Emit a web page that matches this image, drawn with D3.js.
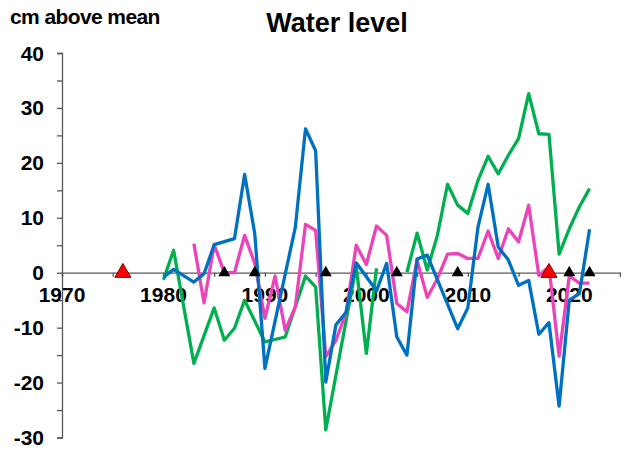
<!DOCTYPE html>
<html>
<head>
<meta charset="utf-8">
<script src="https://cdn.jsdelivr.net/npm/d3@7"></script>
<style>
html,body{margin:0;padding:0;background:#fff;}
svg{display:block;font-family:"Liberation Sans",Arial,sans-serif;}
</style>
</head>
<body>
<svg id="chart" width="621" height="450"></svg>
<script>
// ---- data ----
const blueYears  = [1980,1981,1983,1984,1985,1987,1988,1989,1990,1993,1994,1995,1996,1997,1998,1999,2001,2002,2003,2004,2005,2006,2009,2010,2011,2012,2013,2014,2015,2016,2017,2018,2019,2020,2021,2022];
const blueValues = [-0.8,0.6,-1.7,-0.2,5.1,6.2,17.9,7.1,-17.4,8.3,26.2,22.2,-19.9,-9.5,-7.2,1.8,-3.3,1.7,-11.7,-15,2.5,3.2,-10.2,-6.4,8.3,16.1,4.7,2.3,-2.3,-1.4,-11.2,-9.1,-24.3,-5,-3.8,7.9];

const greenYears  = [1980,1981,1983,1985,1986,1987,1988,1990,1992,1993,1994,1995,1996,1999,2000,2001,2002,2004,2005,2006,2007,2008,2009,2010,2011,2012,2013,2014,2015,2016,2017,2018,2019,2020,2021,2022];
const greenValues = [-1.3,4.1,-16.5,-6.4,-12.3,-10.1,-5,-12.6,-11.7,-6.2,-0.6,-2.6,-28.6,1.2,-14.7,0.8,null,0.1,7.2,0.5,6.8,16.1,12.3,10.8,16.8,21.2,18,21.4,24.4,32.6,25.3,25.2,3.4,8,12,15.3];

const pinkYears  = [1983,1984,1985,1986,1987,1988,1989,1990,1991,1992,1993,1994,1995,1996,1997,1998,1999,2000,2001,2002,2003,2004,2005,2006,2007,2008,2009,2010,2011,2012,2013,2014,2015,2016,2017,2018,2019,2020,2021,2022];
const pinkValues = [5.3,-5.5,5.1,0,0,6.8,1.7,-8.3,-0.6,-10.5,-6.2,8.8,7.7,-15.3,-12.3,-7.3,5,1.5,8.5,6.8,-5.6,-7.1,2.3,-4.5,-1.1,3.4,3.5,2.6,2.6,7.6,2.6,8,5.6,12.3,-0.5,1.1,-15.2,-0.6,-1.9,-1.9];

const blackTriangleYears = [1986,1989,1996,2003,2009,2020,2022];
const redTriangleYears = [1976,2018];

const yTickValues = [-30,-20,-10,0,10,20,30,40];
const xTickLabels = [1970,1980,1990,2000,2010,2020];

// ---- layout ----
const svg = d3.select("#chart");
const x = d3.scaleLinear().domain([1970,2025]).range([62,620]);
const y = d3.scaleLinear().domain([-30,40]).range([437.5,53]);

// titles
svg.append("text").attr("x",10).attr("y",24)
  .attr("font-size",21).attr("font-weight","bold").attr("fill","#000")
  .attr("letter-spacing","-0.6")
  .text("cm above mean");
svg.append("text").attr("x",337).attr("y",32).attr("text-anchor","middle")
  .attr("font-size",27).attr("font-weight","bold").attr("fill","#000")
  .text("Water level");

// y axis
const yAxis = d3.axisLeft(y).tickValues(d3.range(-30,41,5)).tickSize(5).tickFormat("");
const gy = svg.append("g").attr("transform","translate(62,0)").call(yAxis);
gy.select(".domain").attr("stroke","#595959").attr("stroke-width",1.3);
gy.selectAll(".tick line").attr("stroke","#595959").attr("stroke-width",1.3);
svg.append("g").selectAll("text").data(yTickValues).join("text")
  .attr("x",44).attr("y",d=>y(d)).attr("dy","0.36em")
  .attr("text-anchor","end").attr("font-size",21).attr("font-weight","bold").attr("fill","#000")
  .text(d=>d);

// x axis at 0
const xAxis = d3.axisBottom(x).tickValues(d3.range(1970,2026,5)).tickSize(4).tickFormat("");
const gx = svg.append("g").attr("transform",`translate(0,${y(0)})`).call(xAxis);
gx.select(".domain").attr("stroke","#595959").attr("stroke-width",1.3);
gx.selectAll(".tick line").attr("stroke","#595959").attr("stroke-width",1.3);
svg.append("g").selectAll("text").data(xTickLabels).join("text")
  .attr("x",d=>x(d)).attr("y",y(0)+29).attr("text-anchor","middle")
  .attr("font-size",21).attr("font-weight","bold").attr("fill","#000")
  .text(d=>d);

// lines
function drawLine(years, values, color){
  const pts = years.map((yr,i)=>({yr, v: values[i]}));
  const line = d3.line().defined(d=>d.v!==null).x(d=>x(d.yr)).y(d=>y(d.v));
  svg.append("path").datum(pts).attr("d",line)
    .attr("fill","none").attr("stroke",color).attr("stroke-width",3.3)
    .attr("stroke-linejoin","round");
}
drawLine(greenYears, greenValues, "#00b050");
drawLine(pinkYears, pinkValues, "#ea44b8");
drawLine(blueYears, blueValues, "#0070c0");

// triangles
const triBlack = d3.symbol().type(d3.symbolTriangle).size(62);
svg.append("g").selectAll("path").data(blackTriangleYears).join("path")
  .attr("d",triBlack).attr("transform",d=>`translate(${x(d)},${y(0)})`)
  .attr("fill","#000");
const triRed = d3.symbol().type(d3.symbolTriangle).size(112);
svg.append("g").selectAll("path").data(redTriangleYears).join("path")
  .attr("d",triRed).attr("transform",d=>`translate(${x(d)},${y(0)})`)
  .attr("fill","#ff0000").attr("stroke","#7f0000").attr("stroke-width",1);
</script>
</body>
</html>
